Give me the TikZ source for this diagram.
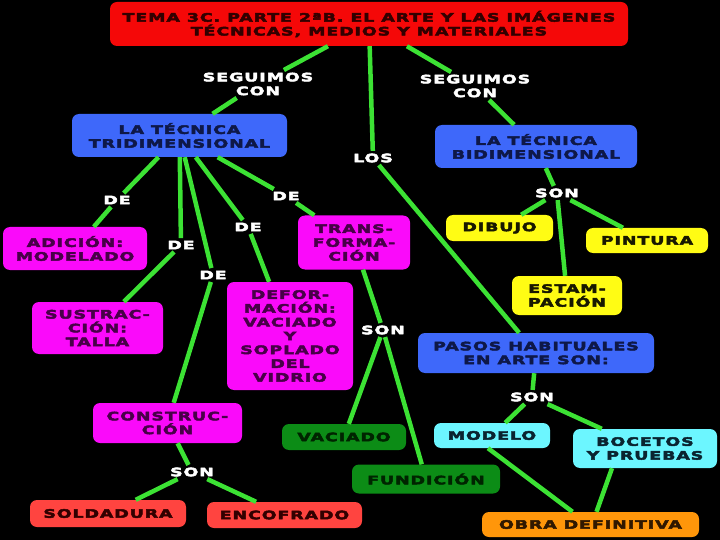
\documentclass[tikz,border=0pt]{standalone}
\usepackage{fontspec}
\newfontfamily\mapfont[FakeStretch=1.5,LetterSpace=8,FakeBold=4]{DejaVu Sans Bold}
\definecolor{cline}{RGB}{60,226,52}
\definecolor{cred}{RGB}{245,8,8}
\definecolor{cblue}{RGB}{62,104,250}
\definecolor{cmag}{RGB}{250,10,250}
\definecolor{cyel}{RGB}{255,252,20}
\definecolor{cgreen}{RGB}{12,140,22}
\definecolor{ccoral}{RGB}{255,68,64}
\definecolor{ccyan}{RGB}{108,246,255}
\definecolor{corange}{RGB}{255,150,10}
\definecolor{tred}{RGB}{50,0,0}
\definecolor{tblue}{RGB}{14,24,72}
\definecolor{tmag}{RGB}{72,0,72}
\definecolor{tyel}{RGB}{24,24,0}
\definecolor{tgreen}{RGB}{0,36,0}
\definecolor{tcyan}{RGB}{10,36,48}
\definecolor{torange}{RGB}{48,24,0}
\tikzset{
  mapbox/.style={rounded corners=7pt, inner sep=0pt, align=center,
    font=\mapfont\fontsize{11.6}{13.8}\selectfont},
  lbl/.style={fill=black, text=white, inner sep=2.5pt, align=center,
    font=\mapfont\fontsize{11.6}{13.8}\selectfont},
  conn/.style={draw=cline, line width=4.5pt}
}
\begin{document}
\begin{tikzpicture}[x=1pt,y=-1pt]
\fill[black] (0,0) rectangle (720,540);
\useasboundingbox (0,0) rectangle (720,540);
% boxes
\node[mapbox, fill=cred, text=tred, minimum width=518pt, minimum height=44pt] (title) at (369,24) {TEMA 3C. PARTE 2ªB. EL ARTE Y LAS IMÁGENES\\TÉCNICAS, MEDIOS Y MATERIALES};
\node[mapbox, fill=cblue, text=tblue, minimum width=215pt, minimum height=43pt] (tri) at (179.5,135.5) {LA TÉCNICA\\TRIDIMENSIONAL};
\node[mapbox, fill=cblue, text=tblue, minimum width=202pt, minimum height=43pt] (bi) at (536,146.5) {LA TÉCNICA\\BIDIMENSIONAL};
\node[mapbox, fill=cmag, text=tmag, minimum width=144pt, minimum height=43pt] (adic) at (75,248.5) {ADICIÓN:\\MODELADO};
\node[mapbox, fill=cmag, text=tmag, minimum width=112pt, minimum height=54pt] (trans) at (354,242.5) {TRANS-\\FORMA-\\CIÓN};
\node[mapbox, fill=cmag, text=tmag, minimum width=131pt, minimum height=52pt] (sust) at (97.5,328) {SUSTRAC-\\CIÓN:\\TALLA};
\node[mapbox, fill=cmag, text=tmag, minimum width=126pt, minimum height=108pt] (defor) at (290,336) {DEFOR-\\MACIÓN:\\VACIADO\\Y\\SOPLADO\\DEL\\VIDRIO};
\node[mapbox, fill=cmag, text=tmag, minimum width=149pt, minimum height=40pt] (constr) at (167.5,423) {CONSTRUC-\\CIÓN};
\node[mapbox, fill=ccoral, text=tred, minimum width=156pt, minimum height=27pt] (sold) at (108,513.5) {SOLDADURA};
\node[mapbox, fill=ccoral, text=tred, minimum width=155pt, minimum height=26pt] (enco) at (284.5,515) {ENCOFRADO};
\node[mapbox, fill=cgreen, text=tgreen, minimum width=124pt, minimum height=26pt] (vac) at (344,437) {VACIADO};
\node[mapbox, fill=cgreen, text=tgreen, minimum width=148pt, minimum height=29pt] (fund) at (426,479) {FUNDICIÓN};
\node[mapbox, fill=cyel, text=tyel, minimum width=107pt, minimum height=26pt] (dib) at (499.5,228) {DIBUJO};
\node[mapbox, fill=cyel, text=tyel, minimum width=122pt, minimum height=25pt] (pint) at (647,240.5) {PINTURA};
\node[mapbox, fill=cyel, text=tyel, minimum width=110pt, minimum height=39pt] (estam) at (567,295.5) {ESTAM-\\PACIÓN};
\node[mapbox, fill=cblue, text=tblue, minimum width=236pt, minimum height=40pt] (pasos) at (536,353) {PASOS HABITUALES\\EN ARTE SON:};
\node[mapbox, fill=ccyan, text=tcyan, minimum width=116pt, minimum height=25pt] (modelo) at (492,435.5) {MODELO};
\node[mapbox, fill=ccyan, text=tcyan, minimum width=144pt, minimum height=39pt] (boc) at (645,448.5) {BOCETOS\\Y PRUEBAS};
\node[mapbox, fill=corange, text=torange, minimum width=217pt, minimum height=25pt] (obra) at (590.5,524.5) {OBRA DEFINITIVA};
% labels
\node[lbl] (seg1) at (258,84) {SEGUIMOS\\CON};
\node[lbl] (seg2) at (475,86) {SEGUIMOS\\CON};
\node[lbl] (los) at (373,158) {LOS};
\node[lbl] (de1) at (117,200) {DE};
\node[lbl] (de2) at (181,245) {DE};
\node[lbl] (de3) at (213,275) {DE};
\node[lbl] (de4) at (248,227) {DE};
\node[lbl] (de5) at (286,196) {DE};
\node[lbl] (son1) at (557,193) {SON};
\node[lbl] (son2) at (383,330) {SON};
\node[lbl] (son3) at (192,472) {SON};
\node[lbl] (son4) at (532,397) {SON};
% connectors
\draw[conn] (title) -- (seg1) -- (tri);
\draw[conn] (title) -- (seg2) -- (bi);
\draw[conn] (title) -- (los) -- (pasos);
\draw[conn] (tri) -- (de1) -- (adic);
\draw[conn] (tri) -- (de2) -- (sust);
\draw[conn] (tri) -- (de3) -- (constr);
\draw[conn] (tri) -- (de4) -- (defor);
\draw[conn] (tri) -- (de5) -- (trans);
\draw[conn] (bi) -- (son1) -- (dib);
\draw[conn] (son1) -- (estam);
\draw[conn] (son1) -- (pint);
\draw[conn] (trans) -- (son2) -- (vac);
\draw[conn] (son2) -- (fund);
\draw[conn] (constr) -- (son3) -- (sold);
\draw[conn] (son3) -- (enco);
\draw[conn] (pasos) -- (son4) -- (modelo);
\draw[conn] (son4) -- (boc);
\draw[conn] ([xshift=-4pt]modelo.south) -- ([xshift=-18pt]obra.north);
\draw[conn] ([xshift=-33pt]boc.south) -- ([xshift=6pt]obra.north);
\end{tikzpicture}
\end{document}
